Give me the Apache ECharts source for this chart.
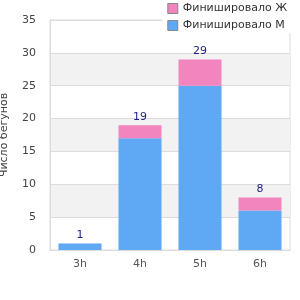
<!DOCTYPE html>
<html>
<head>
<meta charset="utf-8">
<script src="https://cdn.jsdelivr.net/npm/echarts@6/dist/echarts.min.js"></script>
<style>html,body{margin:0;padding:0;background:#fff}#chart{width:300px;height:300px}</style>
</head>
<body>
<div id="chart"></div>
<script>
var categories = ['3h', '4h', '5h', '6h'];
var finishedM = [1, 17, 25, 6];
var finishedF = [0, 2, 4, 2];
var totals = [1, 19, 29, 8];

var myChart = echarts.init(document.getElementById('chart'));
var option = {
    animation: false,
    textStyle: {fontFamily: 'DejaVu Sans'},
    grid: {
        left: 50, right: 10, top: 20, bottom: 50,
        outerBoundsMode: 'none',
        containLabel: false,
        show: true, borderColor: '#dcdcdc', borderWidth: 1
    },
    legend: {
        orient: 'vertical',
        right: 8, top: 1,
        itemWidth: 10, itemHeight: 10, itemGap: 6,
        icon: 'rect',
        backgroundColor: '#fff',
        padding: [2, 5, 2, 5],
        itemStyle: {borderColor: '#888', borderWidth: 1},
        textStyle: {fontSize: 11, color: '#333'},
        data: ['Финишировало Ж', 'Финишировало М']
    },
    xAxis: {
        type: 'category',
        data: categories,
        axisLine: {lineStyle: {color: '#dcdcdc'}},
        axisTick: {show: false},
        axisLabel: {color: '#555', fontSize: 11, margin: 9}
    },
    yAxis: {
        type: 'value',
        min: 0, max: 35, interval: 5,
        name: 'Число бегунов',
        nameLocation: 'middle',
        nameGap: 40,
        nameTextStyle: {color: '#444', fontSize: 11},
        axisLine: {show: true, lineStyle: {color: '#dcdcdc'}},
        axisLabel: {color: '#444', fontSize: 11, margin: 14},
        splitLine: {lineStyle: {color: '#dcdcdc'}},
        splitArea: {show: true, areaStyle: {color: ['rgba(255,255,255,0)', '#f2f2f2']}}
    },
    series: [
        {
            name: 'Финишировало М',
            type: 'bar',
            stack: 'total',
            barWidth: 43,
            data: finishedM,
            itemStyle: {color: '#5fa8f4'}
        },
        {
            name: 'Финишировало Ж',
            type: 'bar',
            stack: 'total',
            barWidth: 43,
            data: finishedF,
            itemStyle: {color: '#f285bd'},
            label: {
                show: true,
                position: 'top',
                distance: 3,
                color: '#1c1c8c',
                fontSize: 11,
                formatter: function (p) { return totals[p.dataIndex]; }
            }
        }
    ]
};
myChart.setOption(option);
</script>
</body>
</html>
